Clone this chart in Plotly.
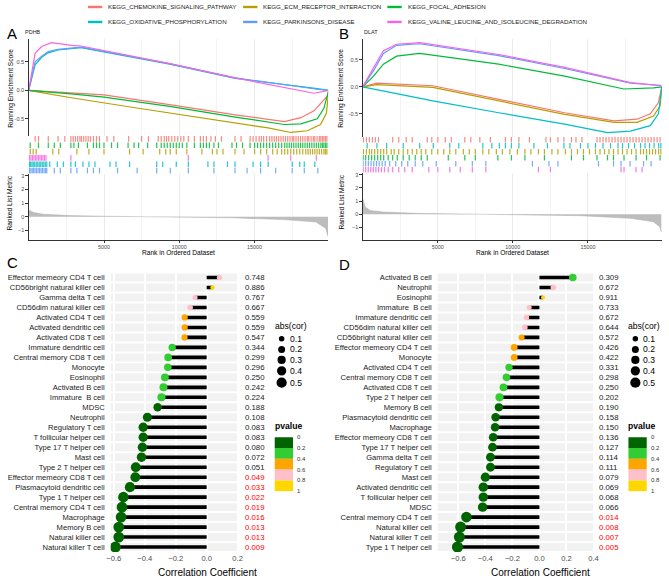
import plotly.graph_objects as go

W, H = 669, 579
FONT = "Liberation Sans, Arial, sans-serif"

# ---- gene sets (ggplot hue palette) ----
set_labels = ["KEGG_CHEMOKINE_SIGNALING_PATHWAY", "KEGG_ECM_RECEPTOR_INTERACTION",
              "KEGG_FOCAL_ADHESION", "KEGG_OXIDATIVE_PHOSPHORYLATION",
              "KEGG_PARKINSONS_DISEASE", "KEGG_VALINE_LEUCINE_AND_ISOLEUCINE_DEGRADATION"]
set_colors = ["#F8766D", "#B79F00", "#00BA38", "#00BFC4", "#619CFF", "#F564E3"]
rank_ticks = [5000, 10000, 15000]

# ---- panel A (PDHB): running enrichment score ----
a_chem_rank = [0, 2821, 5000, 9357, 13714, 16983, 18072, 18943, 19597, 19900, 19920]
a_chem_es = [0, -0.05, -0.08, -0.25, -0.43, -0.55, -0.48, -0.36, -0.18, -0.08, 0]
a_ecm_rank = [0, 2821, 7179, 11536, 15893, 17418, 18508, 19379, 19771, 19920]
a_ecm_es = [0, -0.13, -0.31, -0.49, -0.66, -0.74, -0.71, -0.6, -0.4, 0]
a_focal_rank = [0, 2821, 5000, 9357, 13714, 16983, 18072, 19161, 19597, 19771, 19920]
a_focal_es = [0, -0.06, -0.12, -0.28, -0.47, -0.6, -0.59, -0.5, -0.32, -0.14, 0]
a_oxphos_rank = [0, 425, 860, 1296, 1950, 2821, 3475, 9357, 13714, 19161, 19920]
a_oxphos_es = [0, 0.45, 0.58, 0.66, 0.71, 0.74, 0.75, 0.46, 0.21, 0.03, 0]
a_park_rank = [0, 425, 860, 1296, 1950, 2821, 3475, 9357, 13714, 19161, 19920]
a_park_es = [0, 0.5, 0.6, 0.68, 0.72, 0.75, 0.76, 0.47, 0.22, 0.02, 0]
a_valine_rank = [0, 425, 860, 1514, 2821, 3475, 9357, 13714, 18943, 19920]
a_valine_es = [0, 0.65, 0.77, 0.84, 0.79, 0.78, 0.47, 0.22, -0.05, 0]

# ---- panel A hits ----
a_chem_hits = [430, 650, 1300, 1950, 2400, 2800, 2950, 3100, 3250, 3400, 3500, 3650, 3800, 3950,
               4100, 4300, 4500, 4700, 5200, 5650, 6640, 7500, 7950, 8600, 8800, 9000, 9150, 9300,
               9500, 9700, 9900, 10100, 10300, 10600, 11000, 11400, 11600, 11800, 12100, 12400,
               12800, 13700, 14100, 14700, 14900, 15100, 15300, 15450, 15600, 15800, 16000, 16150,
               16300, 16450, 16600, 16750, 16900, 17050, 17200, 17350, 17500, 17600, 17750, 17900,
               18050, 18200, 18350, 18500, 18600, 18750, 18900, 19000, 19150, 19300, 19400, 19500,
               19600, 19700, 19800]
a_focal_hits = [100, 650, 1300, 1700, 2100, 2800, 3000, 3300, 3900, 4300, 4500, 4700, 5000, 5500,
                5900, 6600, 7000, 7300, 7900, 8500, 8800, 9000, 9200, 9400, 9600, 9800, 10000,
                10200, 10500, 11000, 11400, 11600, 11800, 12000, 12300, 12600, 13500, 13800, 14200,
                14700, 15000, 15200, 15400, 15600, 15800, 16000, 16200, 16400, 16600, 16800, 17000,
                17150, 17300, 17450, 17600, 17750, 17900, 18050, 18200, 18350, 18500, 18650, 18800,
                18950, 19100, 19250, 19400, 19500, 19600, 19700, 19800]
a_ecm_hits = [100, 300, 500, 1600, 2000, 3200, 4000, 5000, 6700, 7600, 8700, 9100, 9400, 9800,
              10500, 11500, 12200, 12500, 12900, 13700, 14300, 15000, 15400, 15800, 16200, 16500,
              16800, 17000, 17200, 17400, 17600, 17800, 18000, 18200, 18400, 18550, 18700, 18850,
              19000, 19150, 19300, 19450, 19600, 19700, 19800]
a_valine_hits = [50, 150, 250, 350, 450, 550, 650, 750, 850, 950, 1050, 1150, 2800, 10600, 15900,
                 17400, 19100]
a_oxphos_hits = [50, 130, 220, 300, 400, 500, 600, 700, 800, 900, 1000, 1100, 1200, 1400, 1900,
                 2300, 2800, 3100, 3600, 4000, 4400, 5400, 5800, 6700, 8500, 8900, 9800, 10600,
                 11900, 12300, 13200, 13700, 14900, 15400, 15900, 17500, 18000, 18300, 19000]
a_park_hits = [50, 140, 230, 320, 420, 520, 620, 720, 820, 920, 1020, 1120, 1200, 1700, 2100, 2800,
               3200, 3900, 4300, 4700, 5900, 7200, 8500, 9400, 10600, 12300, 13700, 14500, 15400,
               16400, 17500, 18300, 19200]

# ---- panel A ranked list metric ----
a_metric_rank = [0, 330, 980, 2725, 4905, 9265, 13625, 16895, 19075, 19730, 19880]
a_metric_val = [0.5, 0.31, 0.19, 0.1, 0.05, 0.0, -0.07, -0.2, -0.37, -0.85, -1.45]

# ---- panel B (DLAT): running enrichment score ----
b_chem_rank = [0, 943, 4671, 9057, 13443, 16732, 18268, 19145, 19693, 19912]
b_chem_es = [0, 0.07, 0.02, -0.23, -0.48, -0.63, -0.6, -0.5, -0.29, 0]
b_ecm_rank = [0, 943, 4671, 9057, 13443, 16732, 18268, 19364, 19803, 19912]
b_ecm_es = [0, 0.04, -0.01, -0.26, -0.51, -0.66, -0.66, -0.54, -0.35, 0]
b_focal_rank = [0, 724, 1382, 2259, 3794, 9057, 13443, 17390, 19364, 19912]
b_focal_es = [0, 0.2, 0.42, 0.57, 0.62, 0.42, 0.2, -0.04, -0.02, 0]
b_oxphos_rank = [0, 4671, 9057, 13443, 16294, 17829, 19145, 19693, 19912]
b_oxphos_es = [0, -0.26, -0.48, -0.69, -0.85, -0.82, -0.72, -0.5, 0]
b_park_rank = [0, 724, 1382, 2259, 3794, 9057, 13443, 17829, 19803, 19912]
b_park_es = [0, 0.3, 0.62, 0.77, 0.8, 0.58, 0.34, 0.07, 0.03, 0]
b_valine_rank = [0, 724, 1382, 2259, 3794, 9057, 13443, 17829, 19803, 19912]
b_valine_es = [0, 0.36, 0.67, 0.79, 0.82, 0.6, 0.36, 0.08, 0.02, 0]

# ---- panel B hits ----
b_chem_hits = [50, 250, 450, 650, 850, 1050, 2000, 2400, 2900, 3300, 4300, 4600, 5000, 5500, 5900,
               6800, 7200, 7800, 8500, 9500, 9900, 10400, 11100, 12200, 12500, 13000, 13400, 13900,
               14200, 14600, 15600, 15800, 16000, 16200, 16400, 16600, 16800, 17000, 17200, 17400,
               17600, 17800, 18000, 18200, 18400, 18600, 18800, 19000, 19200, 19400, 19600, 19800]
b_oxphos_hits = [300, 950, 1600, 2700, 3800, 4700, 5800, 6400, 8000, 8600, 9100, 9500, 9900, 10400,
                 11400, 12300, 13400, 13800, 14500, 15000, 15500, 16000, 16500, 17000, 17300,
                 17700, 18100, 18500, 18800, 19100, 19400, 19700, 19850]
b_ecm_hits = [50, 250, 450, 600, 800, 1000, 1200, 1400, 1600, 1900, 2100, 2400, 2700, 3000, 3300,
              3600, 3900, 4200, 4600, 5000, 5400, 5800, 6200, 6700, 7100, 7500, 8000, 8400, 8900,
              9300, 9800, 10300, 10800, 11200, 11700, 12100, 12600, 13000, 13500, 13900, 14300,
              14700, 15100, 15500, 15800, 16100, 16400, 16700, 17000, 17300, 17600, 17900, 18200,
              18500, 18700, 18900, 19100, 19300, 19500, 19700, 19850]
b_focal_hits = [30, 200, 400, 600, 800, 1000, 1200, 1400, 1700, 2000, 2300, 2700, 3100, 3500, 3900,
                4300, 5700, 6800, 7500, 9000, 9900, 10800, 12100, 13900, 14700, 15600, 16300,
                16700, 17400, 18200, 18900, 19800]
b_park_hits = [30, 200, 380, 560, 740, 920, 1100, 1300, 1500, 1800, 2200, 2600, 3000, 3500, 4000,
               4900, 6200, 7300, 8200, 11300, 12400, 13000, 15700, 16700, 17200, 17800, 18700, 19200]
b_valine_hits = [30, 200, 370, 540, 710, 880, 1050, 1250, 1450, 1700, 2000, 2400, 2800, 3300, 4400,
                 5000, 5800, 6500, 7300, 8200, 11700, 12500, 17200, 17400, 18200, 18600]

# ---- panel B ranked list metric ----
b_metric_rank = [0, 175, 500, 1380, 3570, 6855, 10140, 14520, 17805, 19340, 19776, 19880]
b_metric_val = [1.2, 0.55, 0.3, 0.18, 0.08, 0.03, 0.0, -0.1, -0.3, -0.55, -0.93, -1.35]

# ---- panel C (PDHB vs immune cells) ----
c_cells = ["Effector memeory CD4 T cell", "CD56bright natural killer cell", "Gamma delta T cell",
           "CD56dim natural killer cell", "Activated CD4 T cell", "Activated dendritic cell",
           "Activated CD8 T cell", "Immature dendritic cell", "Central memory CD8 T cell",
           "Monocyte", "Eosinophil", "Activated B cell", "Immature  B cell", "MDSC", "Neutrophil",
           "Regulatory T cell", "T follicular helper cell", "Type 17 T helper cell", "Mast cell",
           "Type 2 T helper cell", "Effector memeory CD8 T cell", "Plasmacytoid dendritic cell",
           "Type 1 T helper cell", "Central memory CD4 T cell", "Macrophage", "Memory B cell",
           "Natural killer cell", "Natural killer T cell"]
c_cor = [0.083, 0.038, -0.075, -0.107, -0.142, -0.142, -0.143, -0.223, -0.249, -0.251, -0.27,
         -0.279, -0.292, -0.317, -0.383, -0.41, -0.41, -0.415, -0.421, -0.458, -0.461, -0.496,
         -0.538, -0.547, -0.553, -0.568, -0.568, -0.59]
c_p = [0.748, 0.886, 0.767, 0.667, 0.559, 0.559, 0.547, 0.344, 0.299, 0.296, 0.250, 0.242, 0.224,
       0.188, 0.108, 0.083, 0.083, 0.080, 0.072, 0.051, 0.049, 0.033, 0.022, 0.019, 0.016, 0.013,
       0.013, 0.009]

# ---- panel D (DLAT vs immune cells) ----
d_cells = ["Activated B cell", "Neutrophil", "Eosinophil", "Immature  B cell",
           "Immature dendritic cell", "CD56dim natural killer cell", "CD56bright natural killer cell",
           "Effector memeory CD4 T cell", "Monocyte", "Activated CD4 T cell",
           "Central memory CD8 T cell", "Activated CD8 T cell", "Type 2 T helper cell",
           "Memory B cell", "Plasmacytoid dendritic cell", "Macrophage",
           "Effector memeory CD8 T cell", "Type 17 T helper cell", "Gamma delta T cell",
           "Regulatory T cell", "Mast cell", "Activated dendritic cell", "T follicular helper cell",
           "MDSC", "Central memory CD4 T cell", "Natural killer cell", "Natural killer T cell",
           "Type 1 T helper cell"]
d_cor = [0.247, 0.103, 0.027, -0.076, -0.096, -0.108, -0.132, -0.187, -0.187, -0.225, -0.244,
         -0.266, -0.295, -0.3, -0.324, -0.328, -0.342, -0.347, -0.362, -0.362, -0.4, -0.415,
         -0.415, -0.42, -0.54, -0.583, -0.592, -0.606]
d_p = [0.309, 0.672, 0.911, 0.733, 0.672, 0.644, 0.572, 0.426, 0.422, 0.331, 0.298, 0.250, 0.202,
       0.190, 0.158, 0.150, 0.136, 0.127, 0.114, 0.111, 0.079, 0.069, 0.068, 0.066, 0.014, 0.008,
       0.007, 0.005]

# legends
size_breaks = [0.1, 0.2, 0.3, 0.4, 0.5]
p_breaks = ["0", "0.2", "0.4", "0.6", "0.8", "1"]
p_colors = ["#006400", "#32CD32", "#FFA500", "#FFC0CB", "#FFD700"]


def xdom(a, b):
    return [a / W, b / W]


def ydom(top, bottom):
    return [1 - bottom / H, 1 - top / H]


def dot_size(r):
    return (12 + 185 * abs(r)) ** 0.5


def p_color(p):
    return p_colors[min(int(p / 0.2), 4)]


def note(text, x, y, size, color="black", xanchor="left", angle=0, yanchor="middle"):
    return dict(text=text, x=x / W, y=1 - y / H, xref="paper", yref="paper", showarrow=False,
                xanchor=xanchor, yanchor=yanchor, textangle=angle, borderpad=0,
                font=dict(size=size, color=color, family=FONT))


fig = go.Figure()
annotations = []
shapes = []
axes = {}

GRID = "#ebebeb"
AXC = "#333333"
TICKC = "#4d4d4d"


def gsea_panel(k, xd, es_dom, rug_dom, met_dom, xmax, es_range, met_range,
               curves, rugs, met_rank, met_val):
    n1, n2, n3 = k, k + 1, k + 2
    s = lambda n: "" if n == 1 else str(n)
    for (rk, es), col in zip(curves, set_colors):
        fig.add_trace(go.Scatter(x=rk, y=es, mode="lines", line=dict(color=col, width=1.2),
                                 xaxis="x" + s(n1), yaxis="y" + s(n1),
                                 showlegend=False, hoverinfo="skip"))
    for row, (hits, col) in enumerate(rugs):
        xs, ys = [], []
        for h in hits:
            xs += [h, h, None]
            ys += [row + 0.05, row + 0.95, None]
        fig.add_trace(go.Scatter(x=xs, y=ys, mode="lines", line=dict(color=col, width=1.2),
                                 opacity=0.85, xaxis="x" + s(n2), yaxis="y" + s(n2),
                                 showlegend=False, hoverinfo="skip"))
    fig.add_trace(go.Scatter(x=met_rank, y=met_val, mode="lines", fill="tozeroy",
                             fillcolor="#bdbdbd", line=dict(color="#b0b0b0", width=0.5),
                             xaxis="x" + s(n3), yaxis="y" + s(n3),
                             showlegend=False, hoverinfo="skip"))
    grid = dict(showgrid=True, gridcolor=GRID, gridwidth=0.6,
                minor=dict(tickvals=[2500, 7500, 12500, 17500], showgrid=True,
                           gridcolor="#f3f3f3", gridwidth=0.5, ticks=""))
    axes["xaxis" + s(n1)] = dict(domain=xd, range=[0, xmax], anchor="y" + s(n1),
                                 tickvals=rank_ticks, showticklabels=False,
                                 ticks="", zeroline=False, showline=False, **grid)
    axes["yaxis" + s(n1)] = dict(domain=es_dom, range=es_range, anchor="x" + s(n1),
                                 tickvals=[-0.5, 0, 0.5], ticktext=["-0.5", "0.0", "0.5"],
                                 ticks="outside", ticklen=2.5, tickwidth=0.6, tickcolor=AXC,
                                 showline=True, linecolor=AXC, linewidth=0.7,
                                 showgrid=False, zeroline=False,
                                 tickfont=dict(size=5.6, color=TICKC, family=FONT))
    axes["xaxis" + s(n2)] = dict(domain=xd, range=[0, xmax], anchor="y" + s(n2), visible=False)
    axes["yaxis" + s(n2)] = dict(domain=rug_dom, range=[6, 0], anchor="x" + s(n2), visible=False)
    axes["xaxis" + s(n3)] = dict(domain=xd, range=[0, xmax], anchor="y" + s(n3),
                                 tickvals=rank_ticks, ticktext=[str(t) for t in rank_ticks],
                                 ticks="outside", ticklen=2.5,
                                 tickwidth=0.6, tickcolor=AXC, showline=True, linecolor=AXC,
                                 linewidth=0.7, zeroline=False,
                                 tickfont=dict(size=5.4, color=TICKC, family=FONT), **grid)
    axes["yaxis" + s(n3)] = dict(domain=met_dom, range=met_range, anchor="x" + s(n3),
                                 tickvals=[-1, 0, 1, 2, 3], ticks="outside", ticklen=2.5,
                                 tickwidth=0.6, tickcolor=AXC, showline=True, linecolor=AXC,
                                 linewidth=0.7, showgrid=False, zeroline=False,
                                 tickfont=dict(size=5.4, color=TICKC, family=FONT))


gsea_panel(1, xdom(25, 328), ydom(38, 135), ydom(135, 173), ydom(173, 239), 19880,
           [-0.798, 0.904], [-1.655, 3.145],
           [(a_chem_rank, a_chem_es), (a_ecm_rank, a_ecm_es), (a_focal_rank, a_focal_es),
            (a_oxphos_rank, a_oxphos_es), (a_park_rank, a_park_es), (a_valine_rank, a_valine_es)],
           [(a_chem_hits, set_colors[0]), (a_focal_hits, set_colors[2]), (a_ecm_hits, set_colors[1]),
            (a_valine_hits, set_colors[5]), (a_oxphos_hits, set_colors[3]), (a_park_hits, set_colors[4])],
           a_metric_rank, a_metric_val)

gsea_panel(4, xdom(363, 666), ydom(38, 136), ydom(136, 172), ydom(172, 239), 19930,
           [-0.926, 0.889], [-1.906, 3.15],
           [(b_chem_rank, b_chem_es), (b_ecm_rank, b_ecm_es), (b_focal_rank, b_focal_es),
            (b_oxphos_rank, b_oxphos_es), (b_park_rank, b_park_es), (b_valine_rank, b_valine_es)],
           [(b_chem_hits, set_colors[0]), (b_oxphos_hits, set_colors[3]), (b_ecm_hits, set_colors[1]),
            (b_focal_hits, set_colors[2]), (b_park_hits, set_colors[4]), (b_valine_hits, set_colors[5])],
           b_metric_rank, b_metric_val)


def lollipop(n, xd, xrange, names, cor, pv, val_x):
    rows = list(range(1, len(names) + 1))
    for r in rows:
        shapes.append(dict(type="rect", xref=f"x{n} domain", yref=f"y{n}", x0=0, x1=1,
                           y0=r - 0.4, y1=r + 0.4, fillcolor="#f2f2f2", line=dict(width=0),
                           layer="below"))
    xs, ys = [], []
    for r, c in zip(rows, cor):
        xs += [0, c, None]
        ys += [r, r, None]
    fig.add_trace(go.Scatter(x=xs, y=ys, mode="lines", line=dict(color="black", width=3.6),
                             xaxis=f"x{n}", yaxis=f"y{n}", showlegend=False, hoverinfo="skip"))
    fig.add_trace(go.Scatter(x=cor, y=rows, mode="markers",
                             marker=dict(size=[dot_size(c) for c in cor],
                                         color=[p_color(p) for p in pv], line=dict(width=0),
                                         opacity=1),
                             xaxis=f"x{n}", yaxis=f"y{n}", showlegend=False,
                             hovertemplate="%{x:.3f}<extra></extra>"))
    for r, p in zip(rows, pv):
        annotations.append(dict(text=f"{p:.3f}", x=val_x / W, xref="paper", y=r, yref=f"y{n}",
                                xanchor="left", showarrow=False,
                                font=dict(size=7.8, family=FONT,
                                          color="#FF0000" if p < 0.05 else "#1a1a1a")))
    axes[f"xaxis{n}"] = dict(domain=xd, range=xrange, anchor=f"y{n}",
                             tickvals=[-0.6, -0.4, -0.2, 0, 0.2, 0.4],
                             ticktext=["\u22120.6", "\u22120.4", "\u22120.2", "0.0", "0.2", "0.4"],
                             ticks="", showgrid=True, gridcolor="white", gridwidth=1.6,
                             zeroline=False, showline=False,
                             tickfont=dict(size=7.6, color=TICKC, family=FONT))
    axes[f"yaxis{n}"] = dict(domain=ydom(272, 552), range=[len(names) + 0.5, 0.5],
                             anchor=f"x{n}", tickvals=rows, ticktext=names, ticks="",
                             showgrid=False, zeroline=False, showline=False,
                             ticklabelstandoff=5,
                             tickfont=dict(size=7.6, color="#1a1a1a", family=FONT))


lollipop(7, xdom(108, 238), [-0.62, 0.21], c_cells, c_cor, c_p, 242)
lollipop(8, xdom(439, 598), [-0.752, 0.41], d_cells, d_cor, d_p, 600)


def side_legends(x0):
    # abs(cor) size legend
    annotations.append(note("abs(cor)", x0, 326, 8.6))
    for b, yy in zip(size_breaks, [338.3, 349, 359.5, 370.5, 382.3]):
        d = dot_size(b)
        shapes.append(dict(type="circle", xref="paper", yref="paper", xsizemode="pixel",
                           ysizemode="pixel", xanchor=(x0 + 8) / W, yanchor=1 - yy / H,
                           x0=-d / 2, x1=d / 2, y0=-d / 2, y1=d / 2, fillcolor="black",
                           line=dict(width=0)))
        annotations.append(note(f"{b:.1f}", x0 + 15, yy, 8.6))
    # pvalue colour steps
    annotations.append(note("<b>pvalue</b>", x0, 425.5, 8.6))
    top, step = 437, 10.8
    for i, col in enumerate(p_colors):
        shapes.append(dict(type="rect", xref="paper", yref="paper", x0=(x0 + 1) / W,
                           x1=(x0 + 19.5) / W, y0=1 - (top + step * (i + 1)) / H,
                           y1=1 - (top + step * i) / H, fillcolor=col, line=dict(width=0)))
    for i, lab in enumerate(p_breaks):
        annotations.append(note(lab, x0 + 23, top + step * i, 6, color="#333333"))


side_legends(273)
side_legends(631)

# top legend
for i, (lab, col) in enumerate(zip(set_labels, set_colors)):
    cx = [85, 242, 388][i % 3]
    cy = [6, 21][i // 3]
    shapes.append(dict(type="line", xref="paper", yref="paper", x0=cx / W, x1=(cx + 14.5) / W,
                       y0=1 - cy / H, y1=1 - cy / H, line=dict(color=col, width=2.4)))
    annotations.append(note(lab, cx + 19.5, cy, 6.2, color="#1a1a1a"))

# panel letters / titles / axis titles
annotations += [
    note("A", 2, 33, 15), note("B", 338, 33, 15), note("C", 2, 262, 15), note("D", 338, 264, 15),
    note("PDHB", 20, 31, 5.5, color="#1a1a1a"), note("DLAT", 363, 31, 5.5, color="#1a1a1a"),
    note("Running Enrichment Score", 7, 87, 6.6, xanchor="center", angle=-90),
    note("Running Enrichment Score", 341, 87, 6.6, xanchor="center", angle=-90),
    note("Ranked List Metric", 6, 202, 6.6, xanchor="center", angle=-90),
    note("Ranked List Metric", 342, 201, 6.6, xanchor="center", angle=-90),
    note("Rank in Ordered Dataset", 177, 252, 6.6, xanchor="center"),
    note("Rank in Ordered Dataset", 515, 252, 6.6, xanchor="center"),
    note("Correlation Coefficient", 206, 572, 10, xanchor="center"),
    note("Correlation Coefficient", 543, 572, 10, xanchor="center"),
]

fig.update_layout(
    width=W, height=H, autosize=False,
    margin=dict(l=0, r=0, t=0, b=0),
    paper_bgcolor="white", plot_bgcolor="white",
    font=dict(family=FONT, color="black"),
    showlegend=False,
    shapes=shapes, annotations=annotations,
    **axes,
)

# page body margin off so the 669x579 figure fills the window exactly
fig.write_html("out.html", config={"displayModeBar": False},
               post_script="document.body.style.margin='0';document.body.style.overflow='hidden';")
